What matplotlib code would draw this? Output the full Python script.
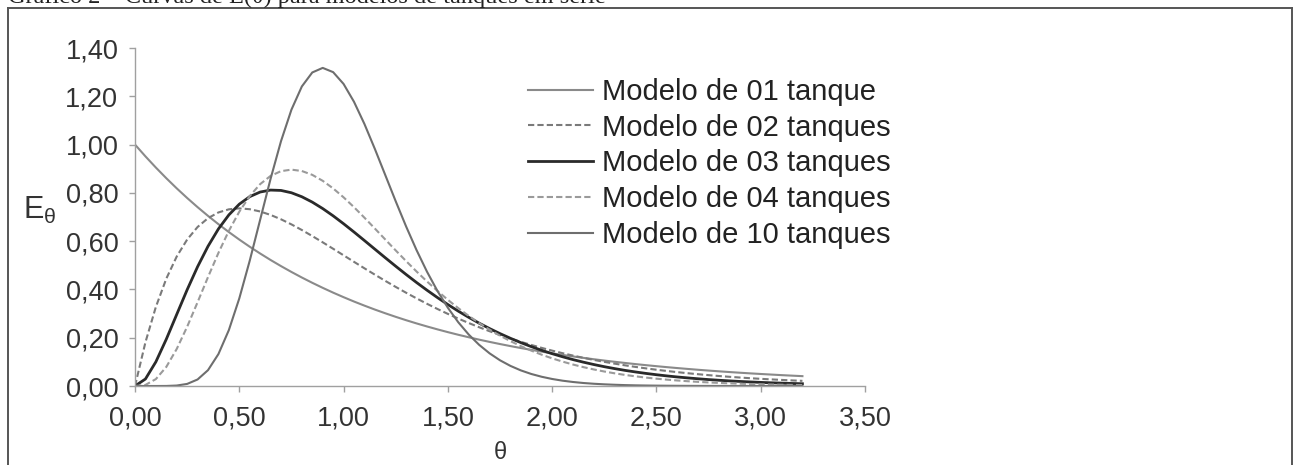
import matplotlib
matplotlib.use("Agg")
import matplotlib.pyplot as plt
from matplotlib.lines import Line2D
from matplotlib.ticker import FuncFormatter

plt.rcParams['font.family'] = ['Liberation Sans', 'DejaVu Sans']
plt.rcParams['mathtext.fontset'] = 'custom'
plt.rcParams['mathtext.rm'] = 'Liberation Sans'
plt.rcParams['mathtext.it'] = 'Liberation Sans'

# theta values (0 to 3.2 step 0.05)
theta = [round(0.05 * i, 2) for i in range(65)]

e_1 = [1.0000, 0.9512, 0.9048, 0.8607, 0.8187, 0.7788, 0.7408, 0.7047, 0.6703, 0.6376,
       0.6065, 0.5769, 0.5488, 0.5220, 0.4966, 0.4724, 0.4493, 0.4274, 0.4066, 0.3867,
       0.3679, 0.3499, 0.3329, 0.3166, 0.3012, 0.2865, 0.2725, 0.2592, 0.2466, 0.2346,
       0.2231, 0.2122, 0.2019, 0.1920, 0.1827, 0.1738, 0.1653, 0.1572, 0.1496, 0.1423,
       0.1353, 0.1287, 0.1225, 0.1165, 0.1108, 0.1054, 0.1003, 0.0954, 0.0907, 0.0863,
       0.0821, 0.0781, 0.0743, 0.0707, 0.0672, 0.0639, 0.0608, 0.0578, 0.0550, 0.0523,
       0.0498, 0.0474, 0.0450, 0.0429, 0.0408]

e_2 = [0.0000, 0.1810, 0.3275, 0.4445, 0.5363, 0.6065, 0.6586, 0.6952, 0.7189, 0.7318,
       0.7358, 0.7323, 0.7229, 0.7086, 0.6905, 0.6694, 0.6461, 0.6211, 0.5951, 0.5684,
       0.5413, 0.5143, 0.4875, 0.4612, 0.4354, 0.4104, 0.3862, 0.3629, 0.3405, 0.3191,
       0.2987, 0.2793, 0.2609, 0.2434, 0.2269, 0.2114, 0.1967, 0.1830, 0.1700, 0.1579,
       0.1465, 0.1359, 0.1260, 0.1167, 0.1080, 0.1000, 0.0925, 0.0855, 0.0790, 0.0730,
       0.0674, 0.0622, 0.0574, 0.0529, 0.0488, 0.0450, 0.0414, 0.0381, 0.0351, 0.0323,
       0.0297, 0.0274, 0.0252, 0.0231, 0.0213]

e_3 = [0.0000, 0.0290, 0.1000, 0.1937, 0.2964, 0.3986, 0.4940, 0.5787, 0.6506, 0.7087,
       0.7531, 0.7843, 0.8034, 0.8115, 0.8100, 0.8004, 0.7838, 0.7616, 0.7349, 0.7048,
       0.6721, 0.6378, 0.6025, 0.5668, 0.5312, 0.4961, 0.4618, 0.4286, 0.3968, 0.3663,
       0.3374, 0.3101, 0.2844, 0.2603, 0.2379, 0.2170, 0.1976, 0.1796, 0.1631, 0.1478,
       0.1339, 0.1211, 0.1093, 0.0987, 0.0889, 0.0800, 0.0720, 0.0646, 0.0581, 0.0521,
       0.0467, 0.0418, 0.0374, 0.0335, 0.0299, 0.0266, 0.0238, 0.0212, 0.0189, 0.0168,
       0.0150, 0.0133, 0.0119, 0.0105, 0.0094]

e_4 = [0.0000, 0.0044, 0.0286, 0.0790, 0.1534, 0.2453, 0.3470, 0.4511, 0.5513, 0.6427,
       0.7218, 0.7866, 0.8361, 0.8703, 0.8899, 0.8962, 0.8905, 0.8745, 0.8499, 0.8184,
       0.7815, 0.7407, 0.6972, 0.6523, 0.6068, 0.5615, 0.5172, 0.4742, 0.4330, 0.3939,
       0.3570, 0.3224, 0.2905, 0.2607, 0.2335, 0.2085, 0.1859, 0.1651, 0.1465, 0.1296,
       0.1145, 0.1010, 0.0889, 0.0781, 0.0685, 0.0600, 0.0525, 0.0458, 0.0400, 0.0348,
       0.0303, 0.0263, 0.0228, 0.0198, 0.0171, 0.0148, 0.0128, 0.0111, 0.0095, 0.0082,
       0.0071, 0.0061, 0.0052, 0.0045, 0.0039]

e_10 = [0.0000, 0.0000, 0.0000, 0.0002, 0.0019, 0.0086, 0.0270, 0.0656, 0.1323, 0.2316,
        0.3627, 0.5187, 0.6884, 0.8581, 1.0140, 1.1444, 1.2408, 1.2987, 1.3176, 1.3000,
        1.2511, 1.1772, 1.0853, 0.9820, 0.8736, 0.7651, 0.6605, 0.5627, 0.4734, 0.3938,
        0.3241, 0.2640, 0.2131, 0.1705, 0.1353, 0.1065, 0.0833, 0.0646, 0.0498, 0.0382,
        0.0291, 0.0220, 0.0166, 0.0124, 0.0093, 0.0069, 0.0051, 0.0037, 0.0027, 0.0020,
        0.0015, 0.0011, 0.0008, 0.0006, 0.0004, 0.0003, 0.0002, 0.0001, 0.0001, 0.0001,
        0.0001, 0.0000, 0.0000, 0.0000, 0.0000]

labels = ["Modelo de 01 tanque", "Modelo de 02 tanques", "Modelo de 03 tanques",
          "Modelo de 04 tanques", "Modelo de 10 tanques"]
x_ticks = [0.0, 0.5, 1.0, 1.5, 2.0, 2.5, 3.0, 3.5]
y_ticks = [0.0, 0.2, 0.4, 0.6, 0.8, 1.0, 1.2, 1.4]

W, H = 1293, 465
fig = plt.figure(figsize=(W / 100, H / 100), dpi=100)
ax = fig.add_axes([135 / W, 1 - 386 / H, 730 / W, 338 / H])

series = [e_1, e_2, e_3, e_4, e_10]
styles = [dict(color='#8a8a8a', ls='-', lw=1.5),
          dict(color='#7a7a7a', ls=(0, (3, 1.5)), lw=1.5),
          dict(color='#2a2a2a', ls='-', lw=2.0),
          dict(color='#9a9a9a', ls=(0, (3, 1.5)), lw=1.5),
          dict(color='#6e6e6e', ls='-', lw=1.5)]
for s, lab, st in zip(series, labels, styles):
    ax.plot(theta, s, label=lab, **st)

ax.set_xlim(0, 3.5)
ax.set_ylim(0, 1.4)
ax.set_xticks(x_ticks)
ax.set_yticks(y_ticks)
fmt = FuncFormatter(lambda v, p: f"{v:.2f}".replace('.', ','))
ax.xaxis.set_major_formatter(fmt)
ax.yaxis.set_major_formatter(fmt)
for sp in ['top', 'right']:
    ax.spines[sp].set_visible(False)
for sp in ['left', 'bottom']:
    ax.spines[sp].set_color('#a0a0a0')
    ax.spines[sp].set_linewidth(1.0)
ax.tick_params(axis='both', colors='#a0a0a0', length=4, width=1.0, direction='out',
               labelsize=19.5, labelcolor='#333333')
ax.tick_params(axis='x', pad=10)
ax.tick_params(axis='y', pad=8)

fig.text(500 / W, 1 - 453 / H, 'θ', fontsize=17, color='#333333', ha='center', va='center')
fig.text(23 / W, 1 - 210 / H, r'E$_{\theta}$', fontsize=22, color='#333333',
         ha='left', va='center')

leg = ax.legend(loc='upper left', bbox_to_anchor=(0.538, 0.912), frameon=False,
                fontsize=21, handlelength=2.25, handletextpad=0.3,
                labelspacing=0.27, borderaxespad=0, borderpad=0)
for t in leg.get_texts():
    t.set_color('#222222')

# outer frame (left, top, right)
fx0, fx1, fy = 7.5 / W, 1291.5 / W, 1 - 8 / H
fig.add_artist(Line2D([fx0, fx0], [0, fy], transform=fig.transFigure, color='#555555', lw=1.4))
fig.add_artist(Line2D([fx0, fx1], [fy, fy], transform=fig.transFigure, color='#555555', lw=1.4))
fig.add_artist(Line2D([fx1, fx1], [0, fy], transform=fig.transFigure, color='#555555', lw=1.4))

fig.text(8 / W, 1 - 3 / H, 'Gráfico 2 – Curvas de E(θ) para modelos de tanques em série',
         family='Liberation Serif', fontsize=17.5, color='#222222', va='baseline', ha='left')

fig.savefig('out.png', dpi=100, facecolor='white')
